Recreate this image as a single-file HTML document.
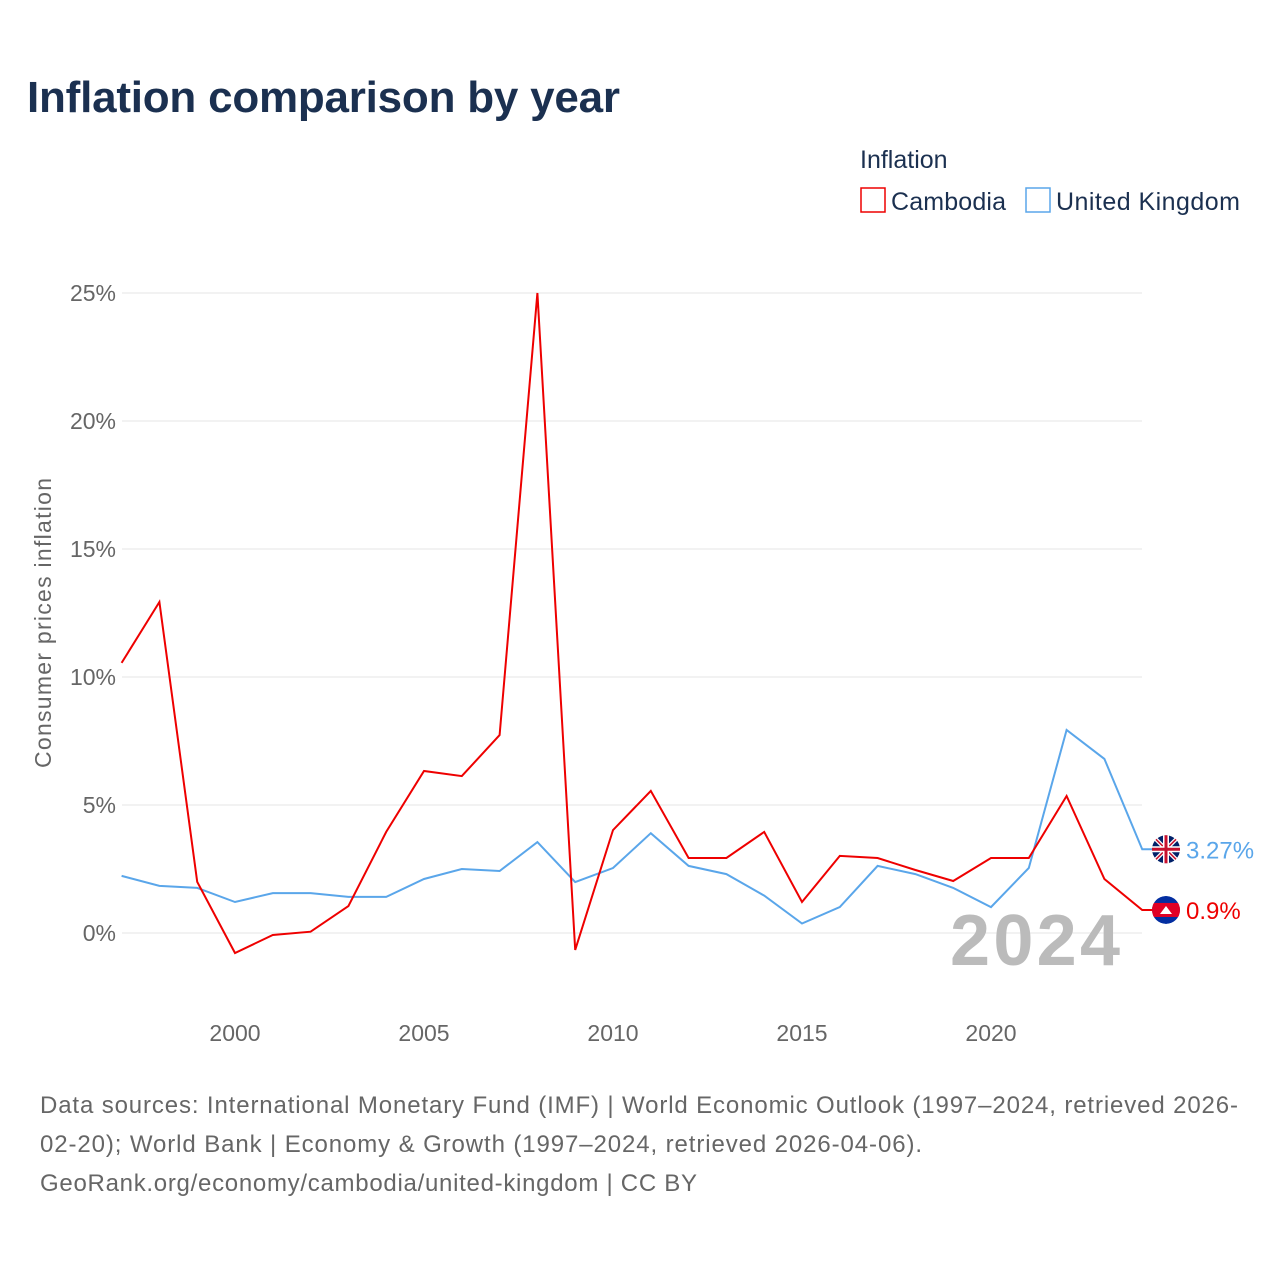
<!DOCTYPE html>
<html><head><meta charset="utf-8"><style>
body{margin:0;background:#fff;font-family:"Liberation Sans",sans-serif;}
#wrap{position:relative;width:1280px;height:1280px;overflow:hidden}
</style></head><body>
<div id="wrap">
<svg id="chart" width="1280" height="1280">
<defs><clipPath id="kc"><circle cx="1166" cy="0" r="14" id="kcc"/></clipPath></defs>
<text x="27" y="112" font-size="44" font-weight="bold" fill="#1b3050" textLength="593">Inflation comparison by year</text>
<text x="860" y="168" font-size="25" fill="#1b3050">Inflation</text>
<g><rect x="861" y="188" width="24" height="24" fill="#fff" stroke="#ee0000" stroke-width="1.5"/><text x="891" y="210" font-size="25" fill="#1b3050" textLength="115">Cambodia</text></g>
<g><rect x="1026" y="188" width="24" height="24" fill="#fff" stroke="#5aa6ea" stroke-width="1.5"/><text x="1056" y="210" font-size="25" fill="#1b3050" textLength="184">United Kingdom</text></g>
<text transform="translate(51,623) rotate(-90)" text-anchor="middle" font-size="23" fill="#666" textLength="290">Consumer prices inflation</text>
<g id="grid"></g><g id="ticks"></g>
<text x="1120" y="965" text-anchor="end" font-size="72" font-weight="bold" fill="#bbb" textLength="170">2024</text>
<g id="series"></g>
<text x="40" y="1113" font-size="24" fill="#666" textLength="1198">Data sources: International Monetary Fund (IMF) | World Economic Outlook (1997–2024, retrieved 2026-</text>
<text x="40" y="1152" font-size="24" fill="#666" textLength="882">02-20); World Bank | Economy &amp; Growth (1997–2024, retrieved 2026-04-06).</text>
<text x="40" y="1191" font-size="24" fill="#666" textLength="657">GeoRank.org/economy/cambodia/united-kingdom | CC BY</text>
</svg></div>
<script>
const years=[1997,1998,1999,2000,2001,2002,2003,2004,2005,2006,2007,2008,2009,2010,2011,2012,2013,2014,2015,2016,2017,2018,2019,2020,2021,2022,2023,2024];
const cambodia=[10.55,12.93,2.0,-0.78,-0.08,0.05,1.05,3.95,6.33,6.13,7.73,25.0,-0.66,4.02,5.55,2.93,2.93,3.95,1.21,3.01,2.93,2.46,2.03,2.93,2.93,5.35,2.11,0.9];
const uk=[2.23,1.84,1.76,1.21,1.56,1.56,1.41,1.41,2.11,2.5,2.42,3.55,1.99,2.54,3.9,2.62,2.3,1.46,0.37,1.01,2.62,2.3,1.76,1.01,2.54,7.93,6.8,3.27];
const yTicks=[0,5,10,15,20,25];
const xTicks=[2000,2005,2010,2015,2020];
const NS="http://www.w3.org/2000/svg";
const X=y=>235+(y-2000)*37.8;
const Y=v=>933-v*25.6;
function mk(t,a,p){const e=document.createElementNS(NS,t);for(const k in a)e.setAttribute(k,a[k]);p.appendChild(e);return e;}
const grid=document.getElementById('grid'),ticks=document.getElementById('ticks'),ser=document.getElementById('series');
yTicks.forEach(v=>{
 const l=mk('line',{x1:122,x2:1142,y1:Y(v),y2:Y(v),stroke:'#e6e6e6','stroke-width':1},grid);
 
 
 const t=mk('text',{x:116,y:Y(v)+8,'text-anchor':'end','font-size':23,fill:'#666'},ticks);
 t.textContent=v+'%';
 
 
});
xTicks.forEach(v=>{
 const t=mk('text',{x:X(v),y:1041,'text-anchor':'middle','font-size':23,fill:'#666'},ticks);
 t.textContent=v;
 
 
});
function line(vals,col,name){
 let d=vals.map((v,i)=>(i?'L':'M')+X(years[i]).toFixed(1)+','+Y(v).toFixed(1)).join(' ');
 const last=vals[vals.length-1];
 d+=' L1155,'+Y(last).toFixed(1);
 const p=mk('path',{d:d,fill:'none',stroke:col,'stroke-width':2},ser);
 
 
}
line(uk,'#5aa6ea','uk-line');
line(cambodia,'#ee0000','cambodia-line');
function flag(v,kind,col,label,name){
 const cy=Y(v),cx=1166;
 const g=mk('g',{},ser);
 
 
 if(kind==='uk'){
  mk('circle',{cx:cx,cy:cy,r:14,fill:'#012169'},g);
  mk('path',{d:`M${cx-10},${cy-10}L${cx+10},${cy+10}M${cx+10},${cy-10}L${cx-10},${cy+10}`,stroke:'#fff','stroke-width':4},g);
  mk('path',{d:`M${cx-10},${cy-10}L${cx+10},${cy+10}M${cx+10},${cy-10}L${cx-10},${cy+10}`,stroke:'#c8102e','stroke-width':1.5},g);
  mk('path',{d:`M${cx-14},${cy}H${cx+14}M${cx},${cy-14}V${cy+14}`,stroke:'#fff','stroke-width':6},g);
  mk('path',{d:`M${cx-14},${cy}H${cx+14}M${cx},${cy-14}V${cy+14}`,stroke:'#c8102e','stroke-width':3},g);
 }else{
  document.getElementById('kcc').setAttribute('cy',cy);
  const inner=mk('g',{'clip-path':'url(#kc)'},g);
  mk('circle',{cx:cx,cy:cy,r:14,fill:'#032ea1'},inner);
  mk('rect',{x:cx-14,y:cy-7,width:28,height:14,fill:'#e00025'},inner);
  mk('path',{d:`M${cx-6},${cy+4}L${cx},${cy-4}L${cx+6},${cy+4}Z`,fill:'#fff'},inner);
 }
 const t=mk('text',{x:cx+20,y:cy+9,'font-size':24,fill:col},g);
 t.textContent=label;
}
flag(uk[uk.length-1],'uk','#5aa6ea',uk[uk.length-1]+'%','uk-end-label');
flag(cambodia[cambodia.length-1],'kh','#ee0000',cambodia[cambodia.length-1]+'%','cambodia-end-label');
</script>
</body></html>
